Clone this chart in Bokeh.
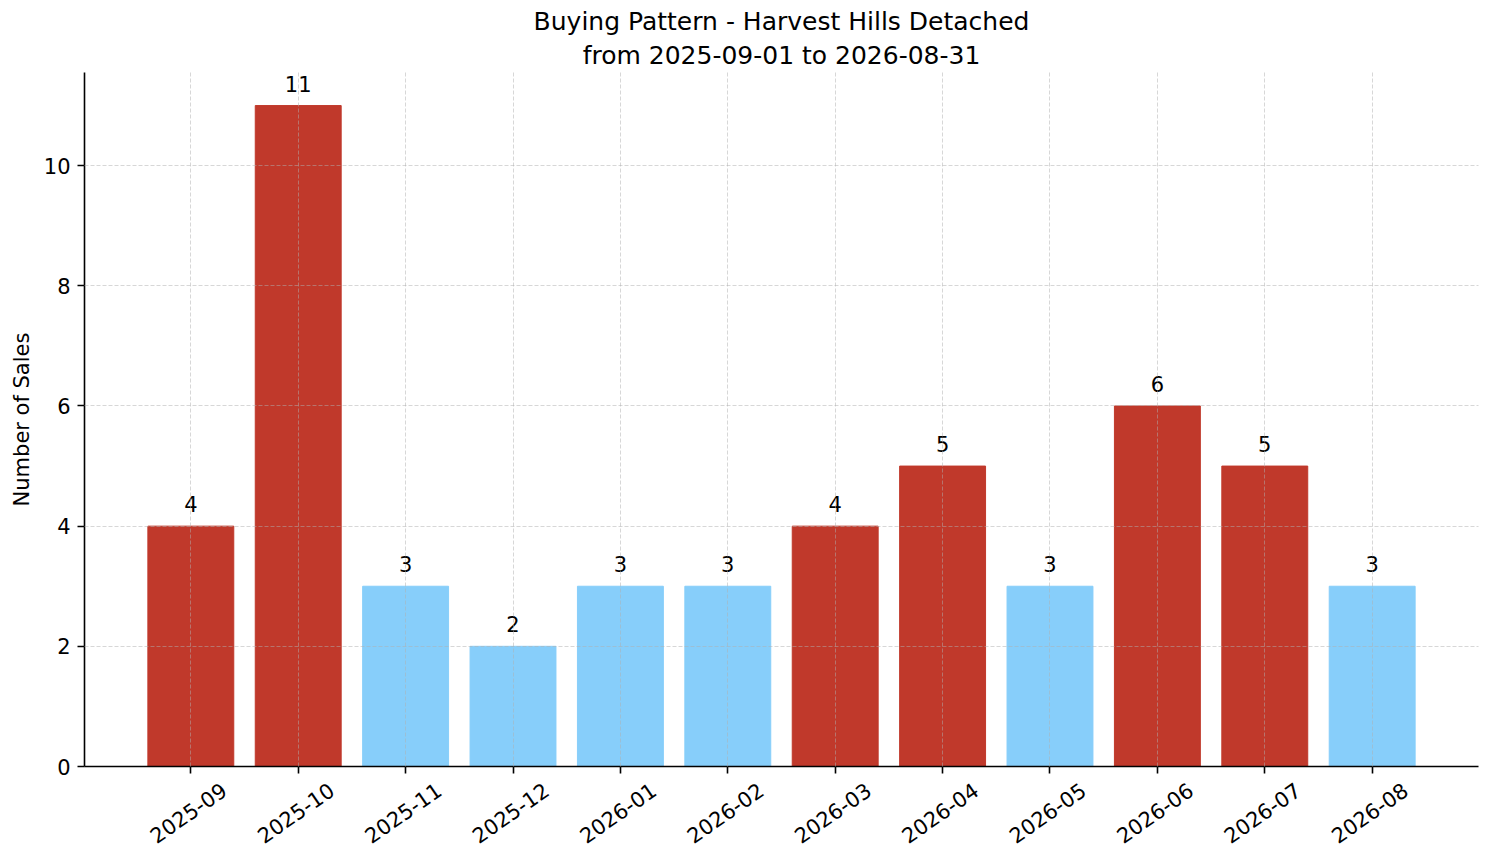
from bokeh.plotting import figure
from bokeh.models import (ColumnDataSource, FixedTicker, LinearAxis, Range1d,
                          LabelSet, Title)
from bokeh.core.properties import value
from bokeh.embed import file_html
from bokeh.resources import INLINE

months = ["2025-09", "2025-10", "2025-11", "2025-12", "2026-01", "2026-02",
          "2026-03", "2026-04", "2026-05", "2026-06", "2026-07", "2026-08"]
sales = [4, 11, 3, 2, 3, 3, 4, 5, 3, 6, 5, 3]

title_lines = ["Buying Pattern - Harvest Hills Detached",
               "from 2025-09-01 to 2026-08-31"]

RED = "#c0392b"
BLUE = "#87cefa"
FONT = "DejaVu Sans"

idx = list(range(len(months)))
colors = [RED if s >= 4 else BLUE for s in sales]
source = ColumnDataSource(data=dict(x=idx, sales=sales, color=colors,
                                    label=[str(s) for s in sales]))

# matplotlib style margins around the bars
x_start, x_end = -0.99, len(months) - 1 + 0.99
y_top = max(sales) * 1.05

p = figure(frame_width=1394, frame_height=694,
           x_range=Range1d(x_start, x_end), y_range=Range1d(0, y_top),
           output_backend="svg", toolbar_location=None,
           margin=(4, 0, 0, 6))

# two title lines, added bottom line first
for line, gap in zip(reversed(title_lines), (6, 0)):
    p.add_layout(Title(text=line, align="center", text_font=FONT,
                       text_font_size="25px", text_color="black",
                       text_font_style="normal", standoff=gap), "above")

p.vbar(x="x", top="sales", width=0.8, color="color", source=source)

labels = LabelSet(x="x", y="sales", text="label", source=source,
                  text_align="center", text_baseline="alphabetic", y_offset=14,
                  text_font=value(FONT), text_font_size=value("21px"),
                  text_color="black")
p.add_layout(labels)

p.outline_line_color = None

for g in (p.xgrid, p.ygrid):
    g.grid_line_color = "#b0b0b0"
    g.grid_line_alpha = 0.5
    g.grid_line_dash = "4 2"
    g.grid_line_width = 1
    g.level = "overlay"

# y axis
p.yaxis.ticker = FixedTicker(ticks=[0, 2, 4, 6, 8, 10])
p.yaxis.axis_label = "Number of Sales"
p.yaxis.axis_label_text_font = FONT
p.yaxis.axis_label_text_font_size = "21px"
p.yaxis.axis_label_text_font_style = "normal"
p.yaxis.axis_label_text_color = "black"
p.yaxis.axis_label_standoff = 7
p.yaxis.major_label_standoff = 7

# x axis: tick marks only, the labels come from a shifted axis below
p.xaxis.ticker = FixedTicker(ticks=idx)

for ax in (p.xaxis, p.yaxis):
    ax.axis_line_color = "black"
    ax.axis_line_width = 1.6
    ax.major_tick_line_color = "black"
    ax.major_tick_line_width = 1.6
    ax.major_tick_in = 0
    ax.major_tick_out = 7
    ax.minor_tick_line_color = None
    ax.major_label_text_font = FONT
    ax.major_label_text_font_size = "21px"
    ax.major_label_text_color = "black"
p.xaxis.major_label_text_font_size = "1px"
p.xaxis.major_label_text_color = None
p.xaxis.major_label_standoff = 0

shift = 0.31
p.extra_x_ranges = {"lbl": Range1d(x_start - shift, x_end - shift)}
lbl_axis = LinearAxis(x_range_name="lbl", ticker=FixedTicker(ticks=idx),
                      major_label_overrides={i: m for i, m in zip(idx, months)},
                      axis_line_color=None, major_tick_line_color=None,
                      minor_tick_line_color=None, major_tick_in=0, major_tick_out=0,
                      major_label_orientation=0.611, major_label_standoff=14,
                      major_label_text_font=FONT, major_label_text_font_size="21px",
                      major_label_text_color="black")
p.add_layout(lbl_axis, "below")

open("out.html", "w").write(file_html(p, INLINE))
